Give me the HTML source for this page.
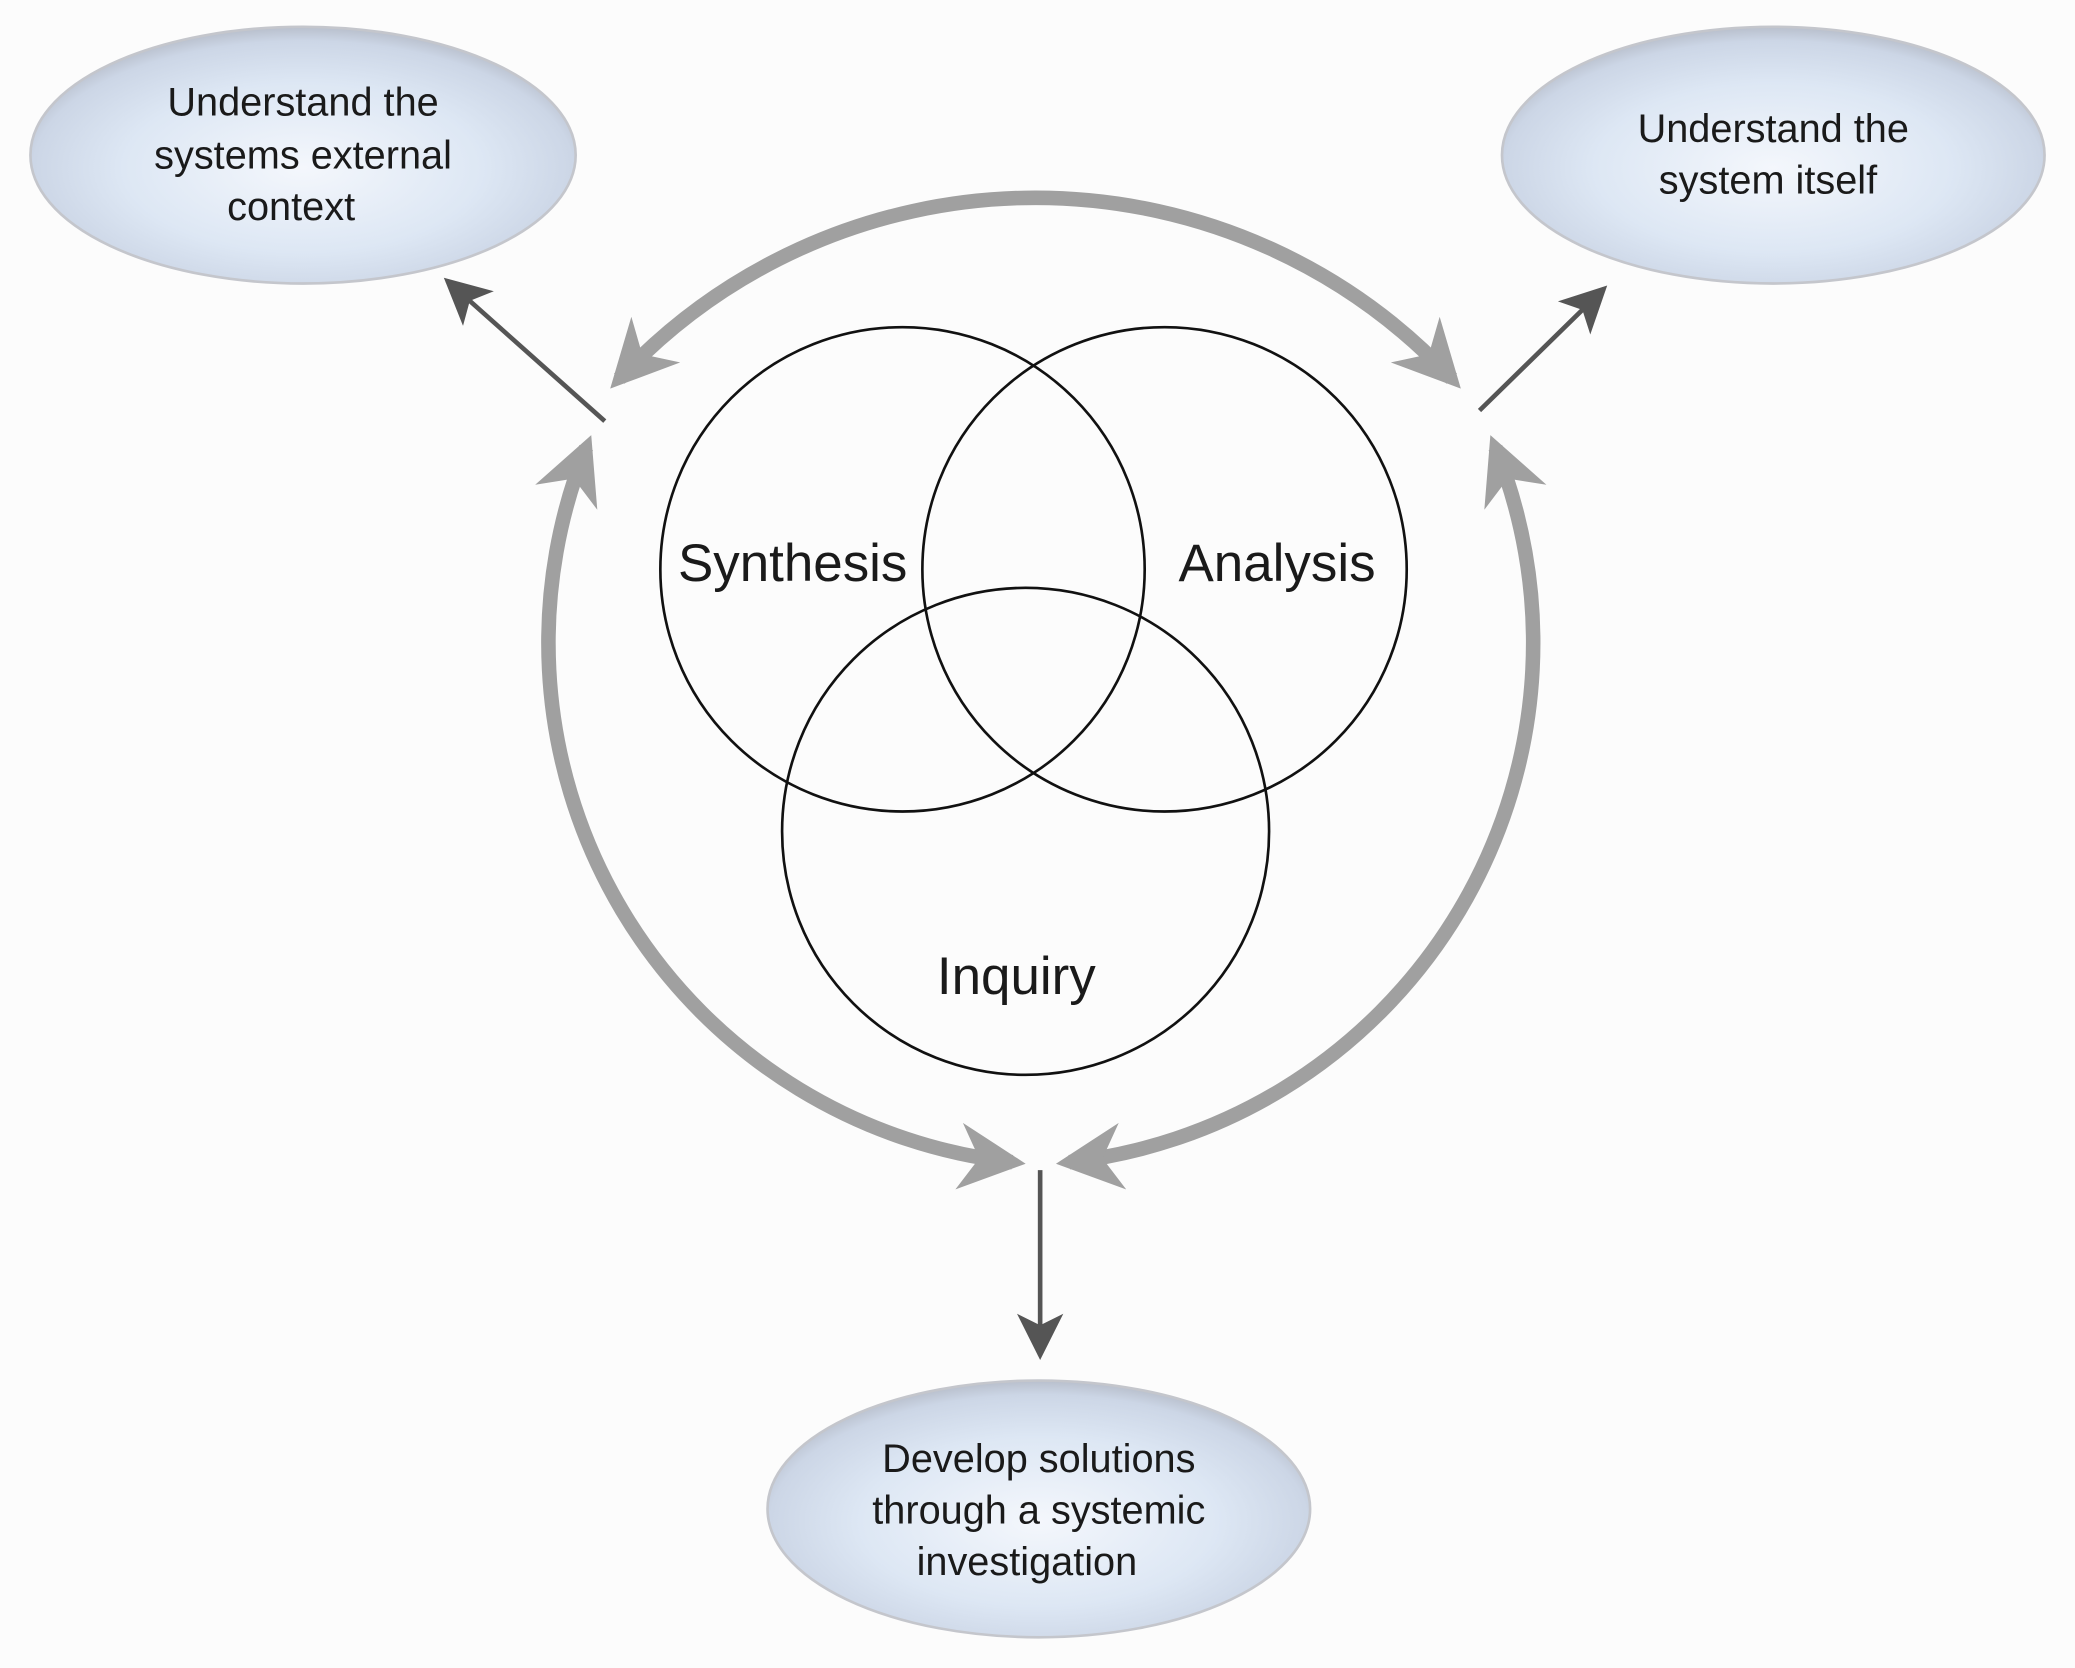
<!DOCTYPE html>
<html><head><meta charset="utf-8">
<style>
html,body{margin:0;padding:0;background:#fcfcfc;}
svg{display:block;}
text{font-family:"Liberation Sans",Arial,sans-serif;fill:#1a1a1a;}
</style></head>
<body>
<svg width="2075" height="1668" viewBox="0 0 1568 1260" xmlns="http://www.w3.org/2000/svg">
<defs>
<radialGradient id="g" cx="50%" cy="55%" r="55%">
<stop offset="0" stop-color="#f4f7fc"/>
<stop offset="0.6" stop-color="#dde7f4"/>
<stop offset="0.9" stop-color="#ccd6e6"/>
<stop offset="1" stop-color="#b8bfcc"/>
</radialGradient>
<marker id="ga" viewBox="0 0 10 10" refX="8" refY="5" markerWidth="4.6" markerHeight="4.6" orient="auto-start-reverse" markerUnits="strokeWidth">
<path d="M0,0 L10,5 L0,10 L3,5 Z" fill="#a0a0a0"/>
</marker>
<marker id="da" viewBox="0 0 10 10" refX="9" refY="5" markerWidth="11" markerHeight="10" orient="auto" markerUnits="strokeWidth">
<path d="M0,0 L10,5 L0,10 L2.5,5 Z" fill="#555"/>
</marker>
</defs>
<rect width="1568" height="1260" fill="#fcfcfc"/>

<g stroke="#c4c6cc" stroke-width="2">
<ellipse cx="229" cy="117" rx="206" ry="97" fill="url(#g)"/>
<ellipse cx="1340" cy="117" rx="205" ry="97" fill="url(#g)"/>
<ellipse cx="785" cy="1140" rx="205" ry="97" fill="url(#g)"/>
</g>

<g font-size="30" text-anchor="middle">
<text x="229" y="87">Understand the</text>
<text x="229" y="127">systems external</text>
<text x="220" y="166">context</text>
<text x="1340" y="107">Understand the</text>
<text x="1336" y="146">system itself</text>
<text x="785" y="1112">Develop solutions</text>
<text x="785" y="1151">through a systemic</text>
<text x="776" y="1190">investigation</text>
</g>

<g fill="none" stroke="#a0a0a0" stroke-width="11">
<path d="M468 286 A 430 430 0 0 1 1097 286" marker-start="url(#ga)" marker-end="url(#ga)"/>
<path d="M443 338 A 395 395 0 0 0 765 878" marker-start="url(#ga)" marker-end="url(#ga)"/>
<path d="M1130 338 A 395 395 0 0 1 808 878" marker-start="url(#ga)" marker-end="url(#ga)"/>
</g>

<g stroke="#555" stroke-width="3.5" fill="none">
<line x1="457" y1="318" x2="338" y2="212" marker-end="url(#da)"/>
<line x1="1118" y1="310" x2="1212" y2="218" marker-end="url(#da)"/>
<line x1="786" y1="884" x2="786" y2="1024" marker-end="url(#da)"/>
</g>

<g fill="none" stroke="#111" stroke-width="2">
<circle cx="682" cy="430" r="183"/>
<circle cx="880" cy="430" r="183"/>
<circle cx="775" cy="628" r="184"/>
</g>

<g font-size="40" text-anchor="middle">
<text x="599" y="439">Synthesis</text>
<text x="965" y="439">Analysis</text>
<text x="768" y="751">Inquiry</text>
</g>
</svg>
</body></html>
